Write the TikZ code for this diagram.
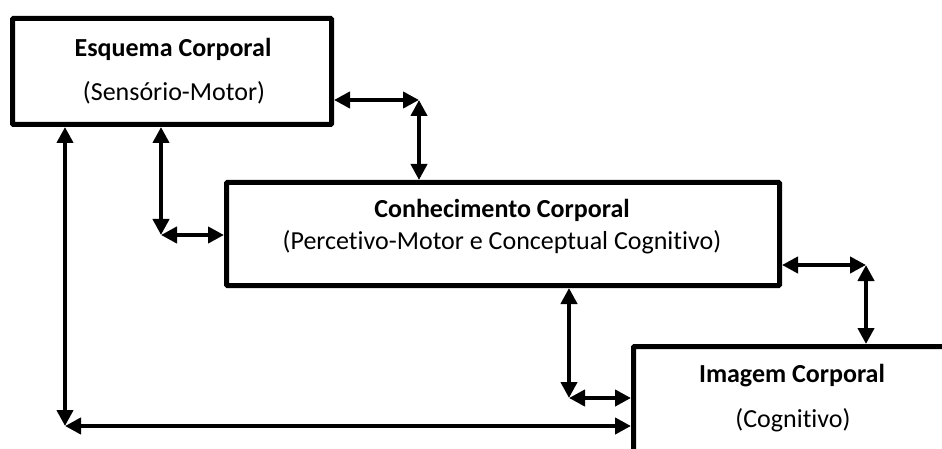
\documentclass[tikz,border=0pt]{standalone}
\usepackage{fontspec}
\setmainfont{Carlito}[Ligatures=CommonOff]
\usetikzlibrary{arrows.meta}
\tikzset{
  box/.style={draw, line width=5pt, rounded corners=1pt, inner sep=0pt},
  lbl/.style={anchor=base, inner sep=0pt, font=\fontsize{26}{30}\selectfont},
  ttl/.style={lbl, font=\fontsize{26}{30}\selectfont\bfseries},
  dbl/.style={line width=4.5pt, {Triangle[length=16pt,width=16pt]}-{Triangle[length=16pt,width=16pt]}}
}
\begin{document}
\begin{tikzpicture}[x=1pt,y=-1pt]
\clip (0,0) rectangle (942,449);
\fill[white] (0,0) rectangle (942,449);
% boxes
\node[box, minimum width=319pt, minimum height=106pt] (b1) at (172,71.5) {};
\node[box, minimum width=553pt, minimum height=103pt] (b2) at (503,234) {};
\node[box, minimum width=317pt, minimum height=108pt] (b3) at (792,400.5) {};
% texts
\node[ttl] (t1a) at (173,57) {Esquema Corporal};
\node[lbl] (t1b) at (174,101) {(Sensório-Motor)};
\node[ttl] (t2a) at (502,218) {Conhecimento Corporal};
\node[lbl] (t2b) at (502,249) {(Percetivo-Motor e Conceptual Cognitivo)};
\node[ttl] (t3a) at (792,382) {Imagem Corporal};
\node[lbl] (t3b) at (793,427) {(Cognitivo)};
% corners
\coordinate (c1) at (419,100);
\coordinate (c2) at (161,235);
\coordinate (c3) at (866,265);
\coordinate (c4) at (569,398);
\coordinate (c5) at (65,426);
% connectors
\draw[dbl] (c1 -| b1.east) -- (c1);
\draw[dbl] (c1) -- (c1 |- b2.north);
\draw[dbl] (c2 |- b1.south) -- (c2);
\draw[dbl] (c2) -- (c2 -| b2.west);
\draw[dbl] (c3 -| b2.east) -- (c3);
\draw[dbl] (c3) -- (c3 |- b3.north);
\draw[dbl] (c4 |- b2.south) -- (c4);
\draw[dbl] (c4) -- (c4 -| b3.west);
\draw[dbl] (c5 |- b1.south) -- (c5);
\draw[dbl] (c5) -- (c5 -| b3.west);
\end{tikzpicture}
\end{document}
